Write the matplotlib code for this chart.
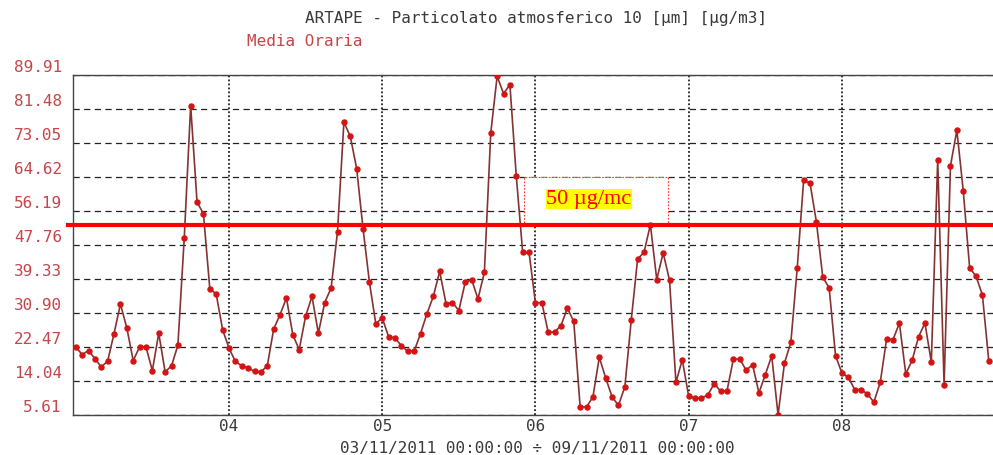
import matplotlib
matplotlib.use("Agg")
import matplotlib.dates as mdates
import matplotlib.pyplot as plt
import pandas as pd
from matplotlib.patches import Rectangle
from matplotlib.transforms import ScaledTranslation

# dati orari PM10, dal 03/11/2011 00:00
START = pd.Timestamp("2011-11-03 00:00")
PM10 = [
    22.5, 20.6, 21.6, 19.6, 17.5, 19.0, 25.8, 33.1, 27.2, 19.1, 22.5, 22.5,
    16.6, 25.9, 16.3, 17.8, 22.9, 49.6, 82.3, 58.4, 55.5, 36.9, 35.6, 26.8,
    22.2, 18.9, 17.8, 17.3, 16.4, 16.3, 17.8, 26.9, 30.5, 34.6, 25.5, 21.8,
    30.1, 35.0, 25.9, 33.5, 37.1, 51.1, 78.2, 74.7, 66.7, 51.8, 38.5, 28.2,
    29.7, 25.0, 24.7, 22.8, 21.4, 21.4, 25.8, 30.7, 35.0, 41.2, 33.2, 33.5,
    31.5, 38.5, 39.2, 34.4, 41.0, 75.5, 89.6, 85.3, 87.5, 64.8, 45.9, 45.9,
    33.4, 33.5, 26.1, 26.2, 27.8, 32.1, 28.8, 7.6, 7.6, 10.1, 19.9, 14.8,
    10.1, 8.0, 12.6, 29.1, 44.3, 45.9, 52.8, 39.2, 45.8, 39.0, 13.7, 19.3,
    10.2, 9.8, 9.8, 10.6, 13.4, 11.5, 11.6, 19.5, 19.5, 16.7, 18.1, 11.1,
    15.6, 20.3, 5.6, 18.5, 23.6, 42.1, 63.8, 63.1, 53.5, 39.8, 37.1, 20.3,
    16.0, 15.0, 11.9, 11.9, 10.8, 8.8, 13.7, 24.5, 24.3, 28.4, 15.8, 19.2,
    25.0, 28.4, 18.7, 68.9, 13.1, 67.4, 76.2, 61.2, 42.1, 40.0, 35.4, 19.0,
]
Y_TICKS = [5.61, 14.04, 22.47, 30.90, 39.33, 47.76, 56.19, 64.62, 73.05, 81.48, 89.91]
DAY_TICKS = ["2011-11-04", "2011-11-05", "2011-11-06", "2011-11-07", "2011-11-08"]

TITLE = "ARTAPE - Particolato atmosferico 10 [µm] [µg/m3]"
SUBTITLE = "Media Oraria"
PERIOD = "03/11/2011 00:00:00 ÷ 09/11/2011 00:00:00"
LIMIT = 52.8
LIMIT_LABEL = "50 µg/mc"

# il grafico originale ha testo molto spaziato: un monospace rende meglio la larghezza
plt.rcParams["font.family"] = ["DejaVu Sans Mono", "DejaVu Sans"]
FS = 11.5
RED_TXT = "#c4454a"
GREY_TXT = "#3a3a3a"

times = pd.date_range(START, periods=len(PM10), freq="h")
hour = pd.Timedelta(hours=1)

fig = plt.figure(figsize=(9.93, 4.55), dpi=100)
ax = fig.add_axes([0.0735, 0.0879, 0.9265, 0.7473])

ax.plot(times, PM10, color="#863232", lw=1.2, zorder=4,
        marker="o", ms=3.6, mfc="#d41414", mec="#d41414")

# soglia disegnata a mano + riquadro
ax.axhline(LIMIT, xmin=-0.005, color="#ff0000", lw=3.0, zorder=5, clip_on=False)
ax.add_patch(Rectangle((mdates.date2num(START + 70.2 * hour), LIMIT),
                       22.56 / 24, 64.7 - LIMIT, facecolor="white",
                       edgecolor="#ff3030", ls=(0, (1.5, 1.5)), lw=0.8, zorder=2))
ax.text(START + 80.34 * hour, 59.1, LIMIT_LABEL, family="Liberation Serif",
        fontsize=16, color="#ff0000", ha="center", va="center", zorder=6,
        bbox=dict(facecolor="#ffff00", edgecolor="none", pad=0.3))

ax.set_xlim(START - 0.43 * hour, START + 143.66 * hour)
ax.set_ylim(Y_TICKS[0], Y_TICKS[-1])

ax.set_yticks(Y_TICKS)
ax.set_yticklabels([f"{v:.2f}" for v in Y_TICKS])
ax.set_xticks(pd.to_datetime(DAY_TICKS))
ax.xaxis.set_major_formatter(mdates.DateFormatter("%d"))

ax.tick_params(axis="y", length=0, pad=8, labelsize=FS, labelcolor=RED_TXT)
ax.tick_params(axis="x", length=0, pad=3, labelsize=FS, labelcolor=GREY_TXT)
for lbl in ax.get_yticklabels():
    lbl.set_transform(lbl.get_transform() + ScaledTranslation(0, 0.09, fig.dpi_scale_trans))

ax.grid(axis="y", color="#222222", ls=(0, (5, 3.5)), lw=0.9)
ax.grid(axis="x", color="#222222", ls=(0, (1, 1.2)), lw=1.3)

for side in ["top", "left", "bottom"]:
    ax.spines[side].set_color("#444444")
    ax.spines[side].set_linewidth(1.0)
ax.spines["right"].set_visible(False)

fig.text(536 / 993, 1 - 18 / 455, TITLE, ha="center", va="center",
         fontsize=FS, color=GREY_TXT)
fig.text(305 / 993, 1 - 42 / 455, SUBTITLE, ha="center", va="center",
         fontsize=FS, color=RED_TXT)
fig.text(537 / 993, 1 - 449 / 455, PERIOD, ha="center", va="center",
         fontsize=FS, color=GREY_TXT)

fig.savefig("out.png", dpi=100)
